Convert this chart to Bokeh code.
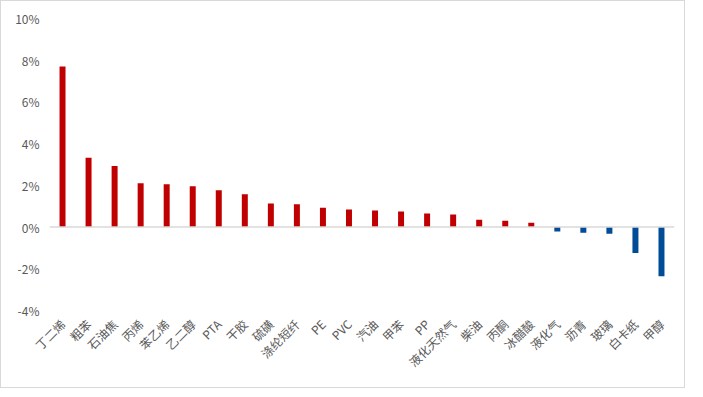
from math import pi
from bokeh.plotting import figure
from bokeh.models import ColumnDataSource, FixedTicker, PrintfTickFormatter, Span
from bokeh.embed import file_html
from bokeh.resources import INLINE

categories = ["丁二烯", "粗苯", "石油焦", "丙烯", "苯乙烯", "乙二醇", "PTA", "干胶", "硫磺",
              "涤纶短纤", "PE", "PVC", "汽油", "甲苯", "PP", "液化天然气", "柴油", "丙酮",
              "冰醋酸", "液化气", "沥青", "玻璃", "白卡纸", "甲醇"]
values = [7.7, 3.32, 2.93, 2.1, 2.05, 1.96, 1.77, 1.57, 1.13, 1.09, 0.93, 0.84,
          0.79, 0.75, 0.65, 0.6, 0.35, 0.3, 0.21, -0.21, -0.27, -0.32, -1.24, -2.36]
y_ticks = [-4, -2, 0, 2, 4, 6, 8, 10]

colors = ["#C00000" if v >= 0 else "#004C97" for v in values]
src = ColumnDataSource(dict(cat=categories, val=values, color=colors))

p = figure(x_range=categories, y_range=(-4, 10), width=685, height=388,
           output_backend="svg", toolbar_location=None,
           min_border_left=48, min_border_right=12, min_border_top=17, min_border_bottom=79)
p.styles = {"border": "1px solid #d9d9d9", "box-sizing": "border-box"}
p.x_range.range_padding = 0
p.outline_line_color = None
p.xgrid.grid_line_color = None
p.ygrid.grid_line_color = None

p.vbar(x="cat", top="val", bottom=0, width=0.23, color="color", line_color=None, source=src)
p.add_layout(Span(location=0, dimension="width", line_color="#d9d9d9", line_width=1.5))

font = "Noto Sans CJK SC"
p.yaxis.ticker = FixedTicker(ticks=y_ticks)
p.yaxis.formatter = PrintfTickFormatter(format="%d%%")
p.yaxis.axis_line_color = None
p.yaxis.major_tick_line_color = None
p.yaxis.minor_tick_line_color = None
p.yaxis.major_label_standoff = 4
p.yaxis.major_label_text_font = font
p.yaxis.major_label_text_font_size = "12px"
p.yaxis.major_label_text_color = "#595959"

p.xaxis.axis_line_color = None
p.xaxis.major_tick_line_color = None
p.xaxis.major_label_orientation = pi / 4
p.xaxis.major_label_standoff = 5
p.xaxis.major_label_text_font = font
p.xaxis.major_label_text_font_size = "12px"
p.xaxis.major_label_text_color = "#595959"

open("out.html", "w").write(file_html(p, INLINE))
